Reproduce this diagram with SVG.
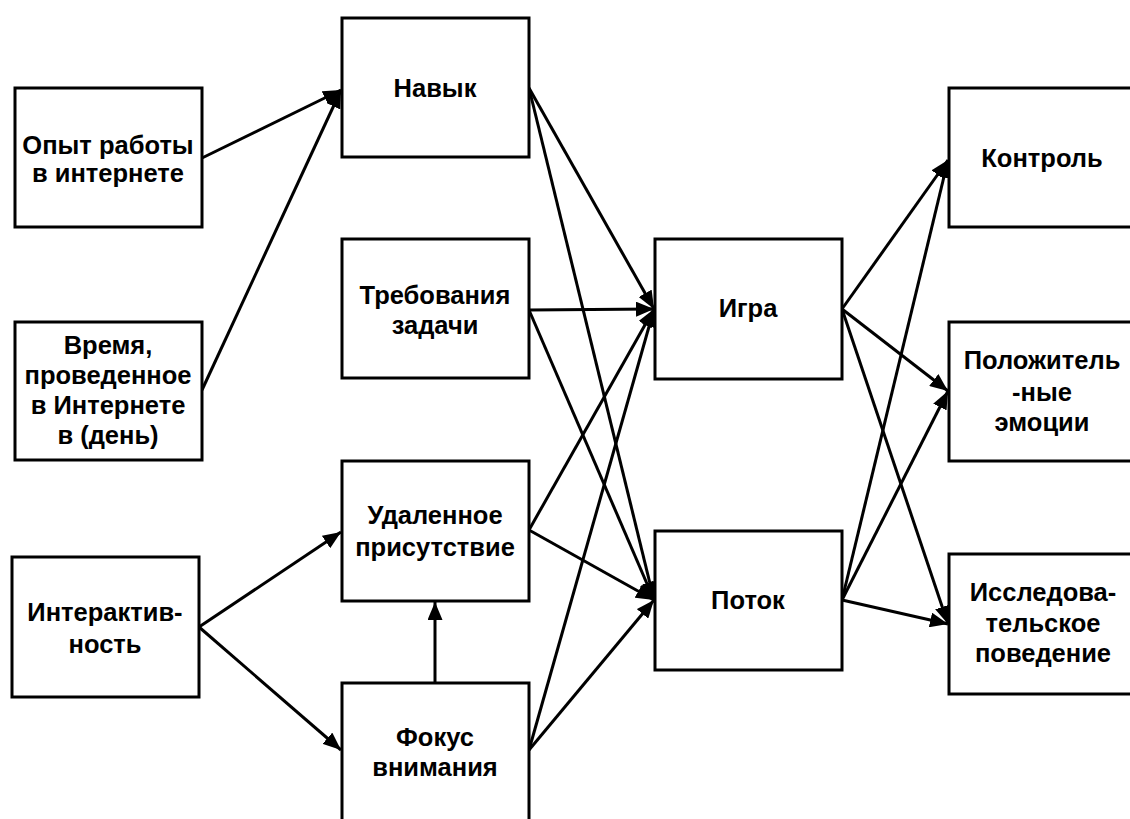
<svg xmlns="http://www.w3.org/2000/svg" width="1130" height="819" viewBox="0 0 1130 819">
<style>
.box{fill:#fff;stroke:#000;stroke-width:3}
.t{font-family:"Liberation Sans",Arial,sans-serif;font-weight:bold;font-size:25.5px;text-anchor:middle;fill:#000}
.c{stroke:#000;stroke-width:3;fill:none;marker-end:url(#ah)}
</style>
<defs>
<marker id="ah" markerWidth="6" markerHeight="5" refX="6" refY="2.5" orient="auto" markerUnits="strokeWidth">
<path d="M0,0 L6,2.5 L0,5 Z" fill="#000"/>
</marker>
</defs>
<rect width="1130" height="819" fill="#fff"/>
<g id="connectors">
<line class="c" x1="202" y1="158" x2="341" y2="90"/>
<line class="c" x1="202" y1="390" x2="341" y2="90"/>
<line class="c" x1="199" y1="627" x2="341" y2="532"/>
<line class="c" x1="199" y1="627" x2="341" y2="750"/>
<line class="c" x1="435" y1="683" x2="435" y2="602"/>
<line class="c" x1="529" y1="88" x2="654" y2="309"/>
<line class="c" x1="529" y1="310" x2="654" y2="309"/>
<line class="c" x1="529" y1="530" x2="654" y2="309"/>
<line class="c" x1="529" y1="750" x2="654" y2="309"/>
<line class="c" x1="529" y1="88" x2="654" y2="600"/>
<line class="c" x1="529" y1="310" x2="654" y2="600"/>
<line class="c" x1="529" y1="530" x2="654" y2="600"/>
<line class="c" x1="529" y1="750" x2="654" y2="600"/>
<line class="c" x1="842" y1="309" x2="948" y2="160"/>
<line class="c" x1="842" y1="309" x2="948" y2="391"/>
<line class="c" x1="842" y1="309" x2="948" y2="624"/>
<line class="c" x1="842" y1="600" x2="948" y2="160"/>
<line class="c" x1="842" y1="600" x2="948" y2="391"/>
<line class="c" x1="842" y1="600" x2="948" y2="624"/>
</g>
<g id="n-opyt"><rect class="box" x="15" y="88" width="187" height="139"/>
<text class="t" x="108" y="154">Опыт работы</text><text class="t" x="108" y="182">в интернете</text></g>
<g id="n-vremya"><rect class="box" x="15" y="322" width="187" height="138"/>
<text class="t" x="108" y="354">Время,</text><text class="t" x="108" y="384">проведенное</text><text class="t" x="108" y="414">в Интернете</text><text class="t" x="108" y="444">в (день)</text></g>
<g id="n-inter"><rect class="box" x="12" y="557" width="187" height="140"/>
<text class="t" x="105" y="621">Интерактив-</text><text class="t" x="105" y="653">ность</text></g>
<g id="n-navyk"><rect class="box" x="342" y="18" width="187" height="139"/>
<text class="t" x="435" y="97">Навык</text></g>
<g id="n-treb"><rect class="box" x="342" y="239" width="187" height="139"/>
<text class="t" x="435" y="304">Требования</text><text class="t" x="435" y="334">задачи</text></g>
<g id="n-udal"><rect class="box" x="342" y="461" width="187" height="140"/>
<text class="t" x="435" y="524">Удаленное</text><text class="t" x="435" y="556">присутствие</text></g>
<g id="n-fokus"><rect class="box" x="342" y="683" width="187" height="150"/>
<text class="t" x="435" y="746">Фокус</text><text class="t" x="435" y="776">внимания</text></g>
<g id="n-igra"><rect class="box" x="655" y="239" width="187" height="140"/>
<text class="t" x="748" y="317">Игра</text></g>
<g id="n-potok"><rect class="box" x="655" y="531" width="187" height="139"/>
<text class="t" x="748" y="609">Поток</text></g>
<g id="n-kontrol"><rect class="box" x="949" y="88" width="200" height="139"/>
<text class="t" x="1042" y="167">Контроль</text></g>
<g id="n-polozh"><rect class="box" x="949" y="322" width="200" height="139"/>
<text class="t" x="1042" y="369">Положитель</text><text class="t" x="1042" y="401">-ные</text><text class="t" x="1042" y="431">эмоции</text></g>
<g id="n-issl"><rect class="box" x="949" y="554" width="200" height="140"/>
<text class="t" x="1043" y="601">Исследова-</text><text class="t" x="1043" y="632">тельское</text><text class="t" x="1043" y="662">поведение</text></g>
</svg>
